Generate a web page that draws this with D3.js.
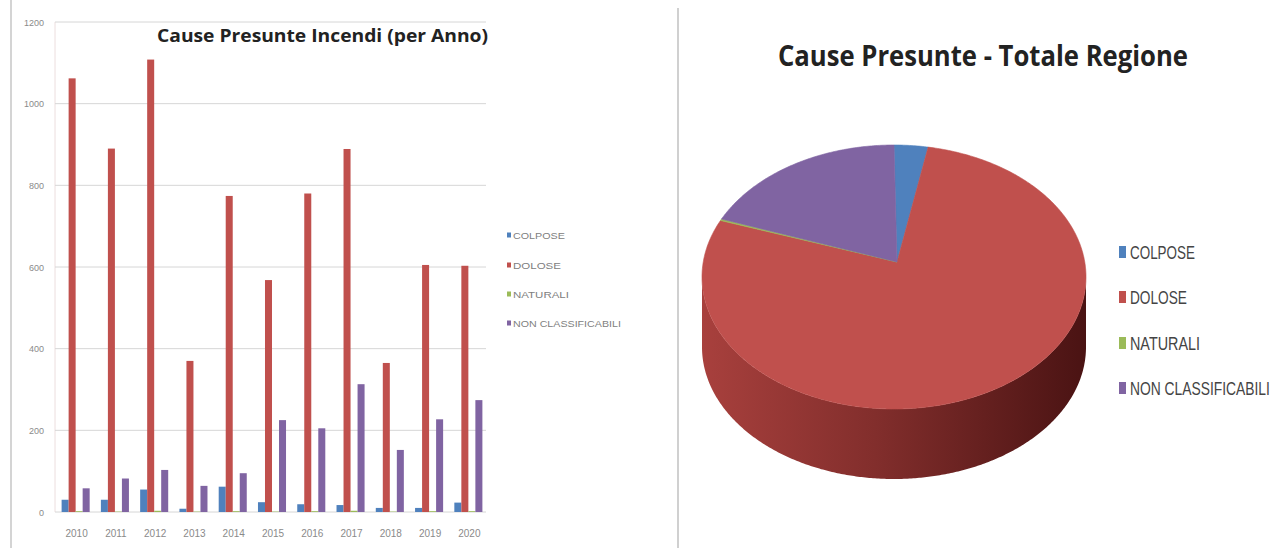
<!DOCTYPE html>
<html>
<head>
<meta charset="utf-8">
<script src="https://cdn.jsdelivr.net/npm/d3@7"></script>
<style>
  body { margin: 0; background: #fff; }
  svg { display: block; }
</style>
</head>
<body>
<svg id="chart" width="1280" height="548"></svg>
<script>
// data
let years = ["2010","2011","2012","2013","2014","2015","2016","2017","2018","2019","2020"];
let causes = ["COLPOSE", "DOLOSE", "NATURALI", "NON CLASSIFICABILI"];
let colpose = [30, 30, 55, 8, 62, 24, 19, 17, 10, 10, 23];
let dolose = [1062, 890, 1108, 370, 774, 568, 780, 889, 365, 605, 603];
let naturali = [2, 1, 3, 1, 2, 1, 2, 3, 1, 2, 2];
let nonClass = [58, 82, 103, 64, 95, 225, 205, 313, 152, 227, 274];
let yTicks = [0, 200, 400, 600, 800, 1000, 1200];
let colors = ["#4f81bd", "#c0504d", "#9bbb59", "#8064a2"];
let sideColors = [["#3a6496", "#243f60"], ["#a8403d", "#4a1313"], ["#7a9546", "#4d5e2c"], ["#654e82", "#3e3050"]];

let series = [colpose, dolose, naturali, nonClass];

let svg = d3.select("#chart");

// squeeze a text horizontally to a given width (condensed look)
function squeeze(sel, widths) {
  sel.each(function(d, i) {
    let w = this.getComputedTextLength();
    d3.select(this).attr("transform", "scale(" + (widths[i] / w) + ",1)");
  });
}

// frame lines
svg.append("line").attr("x1", 11).attr("x2", 11).attr("y1", 0).attr("y2", 548)
  .attr("stroke", "#d4d4d4").attr("stroke-width", 2);
svg.append("line").attr("x1", 678).attr("x2", 678).attr("y1", 8).attr("y2", 548)
  .attr("stroke", "#d0d0d0").attr("stroke-width", 2);

// ---------- bar chart ----------
let x = d3.scaleBand().domain(years).range([56, 488]);
let x1 = d3.scaleBand().domain(causes).range([0, x.bandwidth()]).paddingOuter(0.8);
let y = d3.scaleLinear().domain([0, 1200]).range([512, 22]);

let g = svg.append("g");

g.append("line").attr("x1", 55).attr("x2", 55).attr("y1", 22).attr("y2", 512)
  .attr("stroke", "#ecdede");

g.selectAll(".grid").data(yTicks).enter().append("line")
  .attr("class", "grid")
  .attr("x1", 55).attr("x2", 486)
  .attr("y1", d => y(d)).attr("y2", d => y(d))
  .attr("stroke", "#d6d6d6");

g.selectAll(".ytick").data(yTicks).enter().append("text")
  .attr("class", "ytick")
  .attr("x", 44).attr("y", d => y(d) + 3.5)
  .attr("text-anchor", "end")
  .style("font", "9px 'Liberation Sans', Arial, sans-serif")
  .style("fill", "#8a8a8a")
  .text(d => d);

g.selectAll(".xtick").data(years).enter().append("text")
  .attr("class", "xtick")
  .attr("x", d => x(d) + x.bandwidth() / 2 + 1)
  .attr("y", 537)
  .attr("text-anchor", "middle")
  .style("font", "10px 'Liberation Sans', Arial, sans-serif")
  .style("fill", "#8a8a8a")
  .text(d => d);

let yearGroups = g.selectAll(".year").data(years).enter().append("g")
  .attr("class", "year")
  .attr("transform", d => "translate(" + x(d) + ",0)");

yearGroups.selectAll("rect")
  .data((d, i) => causes.map((c, k) => ({cause: c, value: series[k][i], k: k})))
  .enter().append("rect")
  .attr("x", d => x1(d.cause))
  .attr("y", d => y(d.value))
  .attr("width", x1.bandwidth())
  .attr("height", d => y(0) - y(d.value))
  .style("fill", d => colors[d.k]);

svg.append("text")
  .attr("x", 157).attr("y", 42)
  .attr("textLength", 331).attr("lengthAdjust", "spacingAndGlyphs")
  .style("font", "bold 18px 'Open Sans', sans-serif")
  .style("fill", "#222")
  .text("Cause  Presunte Incendi (per Anno)");

let leg1 = svg.append("g").selectAll("g").data(causes).enter().append("g")
  .attr("transform", (d, i) => "translate(507," + [235, 265, 294, 323][i] + ")");
leg1.append("rect").attr("x", 0).attr("y", -2.5).attr("width", 4).attr("height", 5)
  .style("fill", (d, i) => colors[i]);
leg1.append("g").attr("transform", "translate(6,3.5)")
  .append("text")
  .style("font", "9.5px 'Liberation Sans', sans-serif")
  .style("fill", "#808080")
  .text(d => d)
  .call(squeeze, [52, 48, 56, 108]);

// ---------- 3D pie ----------
let totals = series.map(s => d3.sum(s));
let pcx = 894, pcy = 277, rx = 192, ry = 132, depth = 70;
let apex = [pcx + 3, pcy - 15];
let rim = (a, dy) => [pcx + rx * Math.sin(a), pcy - ry * Math.cos(a) + (dy || 0)];

let arcs = d3.pie().sort(null).value(d => d)(totals);

let defs = svg.append("defs");
sideColors.forEach((c, i) => {
  let grad = defs.append("linearGradient").attr("id", "side" + i)
    .attr("gradientUnits", "userSpaceOnUse")
    .attr("x1", pcx - rx).attr("x2", pcx + rx).attr("y1", 0).attr("y2", 0);
  grad.append("stop").attr("offset", "0").attr("stop-color", c[0]);
  grad.append("stop").attr("offset", "0.45").attr("stop-color", d3.interpolateRgb(c[0], c[1])(0.4));
  grad.append("stop").attr("offset", "1").attr("stop-color", c[1]);
});

let pie = svg.append("g");

// front walls
arcs.forEach((a, i) => {
  let a0 = Math.max(a.startAngle, Math.PI / 2), a1 = Math.min(a.endAngle, 3 * Math.PI / 2);
  if (a0 >= a1) return;
  let top = d3.range(a0, a1, 0.01).concat([a1]);
  let pts = top.map(t => rim(t)).concat(top.slice().reverse().map(t => rim(t, depth)));
  pie.append("path").attr("d", "M" + pts.join("L") + "Z")
    .style("fill", "url(#side" + i + ")");
});

// top face
arcs.forEach((a, i) => {
  let top = d3.range(a.startAngle, a.endAngle, 0.01).concat([a.endAngle]);
  let pts = [apex].concat(top.map(t => rim(t)));
  pie.append("path").attr("d", "M" + pts.join("L") + "Z")
    .style("fill", colors[i])
    .style("stroke", colors[i]).style("stroke-width", 0.6);
});

svg.append("text")
  .attr("x", 778).attr("y", 66)
  .attr("textLength", 410).attr("lengthAdjust", "spacingAndGlyphs")
  .style("font", "bold 29px 'Open Sans', sans-serif")
  .style("fill", "#222")
  .text("Cause Presunte  - Totale Regione");

let leg2 = svg.append("g").selectAll("g").data(causes).enter().append("g")
  .attr("transform", (d, i) => "translate(1119," + [252, 297, 343, 388][i] + ")");
leg2.append("rect").attr("x", 0).attr("y", -6).attr("width", 7).attr("height", 12)
  .style("fill", (d, i) => colors[i]);
leg2.append("g").attr("transform", "translate(11,7)")
  .append("text")
  .style("font", "19px 'Liberation Sans', sans-serif")
  .style("fill", "#444")
  .text(d => d)
  .call(squeeze, [65, 57, 70, 140]);
</script>
</body>
</html>
